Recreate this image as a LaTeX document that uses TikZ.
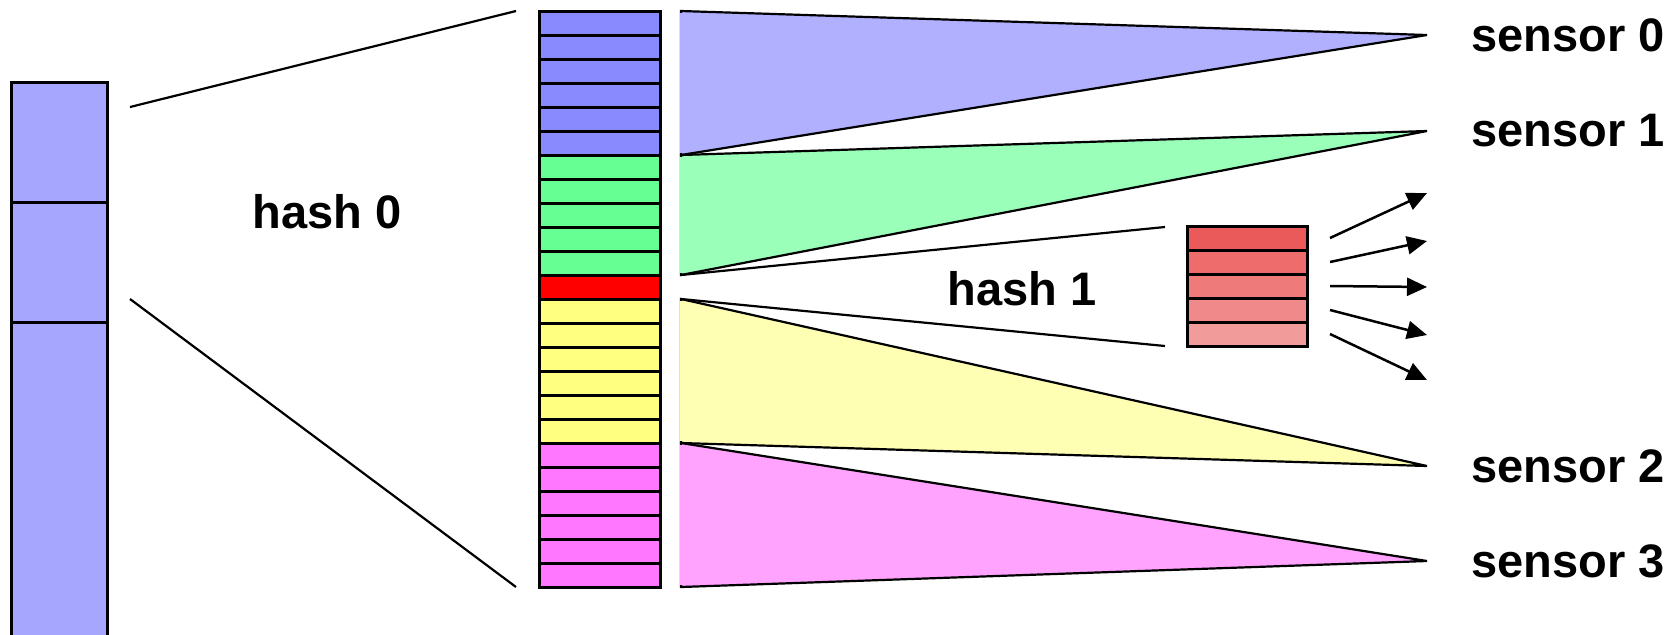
\documentclass[tikz,border=0pt]{standalone}
\usepackage{fontspec}
\setmainfont{Liberation Sans}
\usetikzlibrary{arrows.meta,positioning}

\definecolor{colblue}{RGB}{166,166,255}
\definecolor{hblue}{RGB}{138,138,255}
\definecolor{hgreen}{RGB}{102,255,148}
\definecolor{hred}{RGB}{255,0,0}
\definecolor{hyellow}{RGB}{255,255,128}
\definecolor{hpink}{RGB}{255,119,255}
\definecolor{fanblue}{RGB}{176,176,255}
\definecolor{fangreen}{RGB}{153,255,185}
\definecolor{fanyellow}{RGB}{255,255,179}
\definecolor{fanpink}{RGB}{255,163,255}
\definecolor{r0col}{RGB}{235,90,90}
\definecolor{r1col}{RGB}{238,108,108}
\definecolor{r2col}{RGB}{239,122,122}
\definecolor{r3col}{RGB}{240,138,138}
\definecolor{r4col}{RGB}{242,155,155}

\tikzset{
  cell/.style={draw, line width=1.5pt, fill=#1, inner sep=0pt, outer sep=0pt,
    minimum width=60.5pt, minimum height=12pt, anchor=north west},
  bigcell/.style={cell=colblue, minimum width=48pt, minimum height=60pt},
  fan/.style={line width=1.1pt, fill=#1},
  lbl/.style={font=\fontsize{23.5}{28}\selectfont\bfseries, inner sep=0pt},
}

\begin{document}
\begin{tikzpicture}[x=0.5pt, y=-0.5pt, line join=miter]
  \clip (0,0) rectangle (1676,634);

  % outer table
  \node[bigcell] (l0) at (11,82) {};
  \node[bigcell] (l1) at (11,202) {};
  \node[bigcell, minimum height=170pt] (l2) at (11,322) {};

  % hash 0 buckets
  \foreach \col [count=\i from 0] in {hblue,hblue,hblue,hblue,hblue,hblue,
      hgreen,hgreen,hgreen,hgreen,hgreen,hred,
      hyellow,hyellow,hyellow,hyellow,hyellow,hyellow,
      hpink,hpink,hpink,hpink,hpink,hpink}
    \node[cell=\col] (m\i) at (539,11+24*\i) {};

  \coordinate (zt) at (130,107);
  \coordinate (zb) at (130,299);
  \draw[line width=1.1pt] (zt) -- ([xshift=-11.5pt]m0.north west);
  \draw[line width=1.1pt] (zb) -- ([xshift=-11.5pt]m23.south west);
  \node[lbl] (h0) at (327,212) {hash 0};

  % sensors
  \coordinate (s0) at (1427,35);
  \coordinate (s1) at (1427,131);
  \coordinate (s2) at (1427,466);
  \coordinate (s3) at (1427,561);
  \foreach \s in {0,...,3}
    \node[lbl, anchor=west, right=22pt of s\s] (t\s) {sensor \s};

  \filldraw[fan=fanblue] ([xshift=10.5pt]m5.south east) -- ([xshift=10.5pt]m0.north east) -- (s0) -- cycle;
  \filldraw[fan=fangreen] ([xshift=10.5pt]m10.south east) -- ([xshift=10.5pt]m6.north east) -- (s1) -- cycle;
  \filldraw[fan=fanyellow] ([xshift=10.5pt]m17.south east) -- ([xshift=10.5pt]m12.north east) -- (s2) -- cycle;
  \filldraw[fan=fanpink] ([xshift=10.5pt]m23.south east) -- ([xshift=10.5pt]m18.north east) -- (s3) -- cycle;
  % hide the left edges of the fans
  \fill[fanblue] ([xshift=10pt,yshift=-1pt]m0.north east) rectangle ([xshift=11.5pt,yshift=1pt]m5.south east);
  \fill[fangreen] ([xshift=10pt,yshift=-1pt]m6.north east) rectangle ([xshift=11.5pt,yshift=1pt]m10.south east);
  \fill[fanyellow] ([xshift=10pt,yshift=-1pt]m12.north east) rectangle ([xshift=11.5pt,yshift=1pt]m17.south east);
  \fill[fanpink] ([xshift=10pt,yshift=-1pt]m18.north east) rectangle ([xshift=11.5pt,yshift=1pt]m23.south east);

  % hash 1 buckets
  \foreach \i in {0,...,4}
    \node[cell=r\i col, minimum width=60pt] (r\i) at (1187,226+24*\i) {};

  \draw[line width=1.1pt] ([xshift=10.5pt]m11.north east) -- ([xshift=-11pt,yshift=-0.5pt]r0.north west);
  \draw[line width=1.1pt] ([xshift=10.5pt]m11.south east) -- ([xshift=-11pt]r4.south west);
  \node[lbl] (h1) at (1022,289) {hash 1};

  \coordinate (a0) at (1427,193);
  \coordinate (a1) at (1427,241);
  \coordinate (a2) at (1427,287);
  \coordinate (a3) at (1427,335);
  \coordinate (a4) at (1427,380);
  \foreach \i in {0,...,4}
    \draw[line width=1.25pt, -{Triangle[length=10pt, width=9pt]}] ([xshift=11.5pt]r\i.east) -- (a\i);
\end{tikzpicture}
\end{document}
